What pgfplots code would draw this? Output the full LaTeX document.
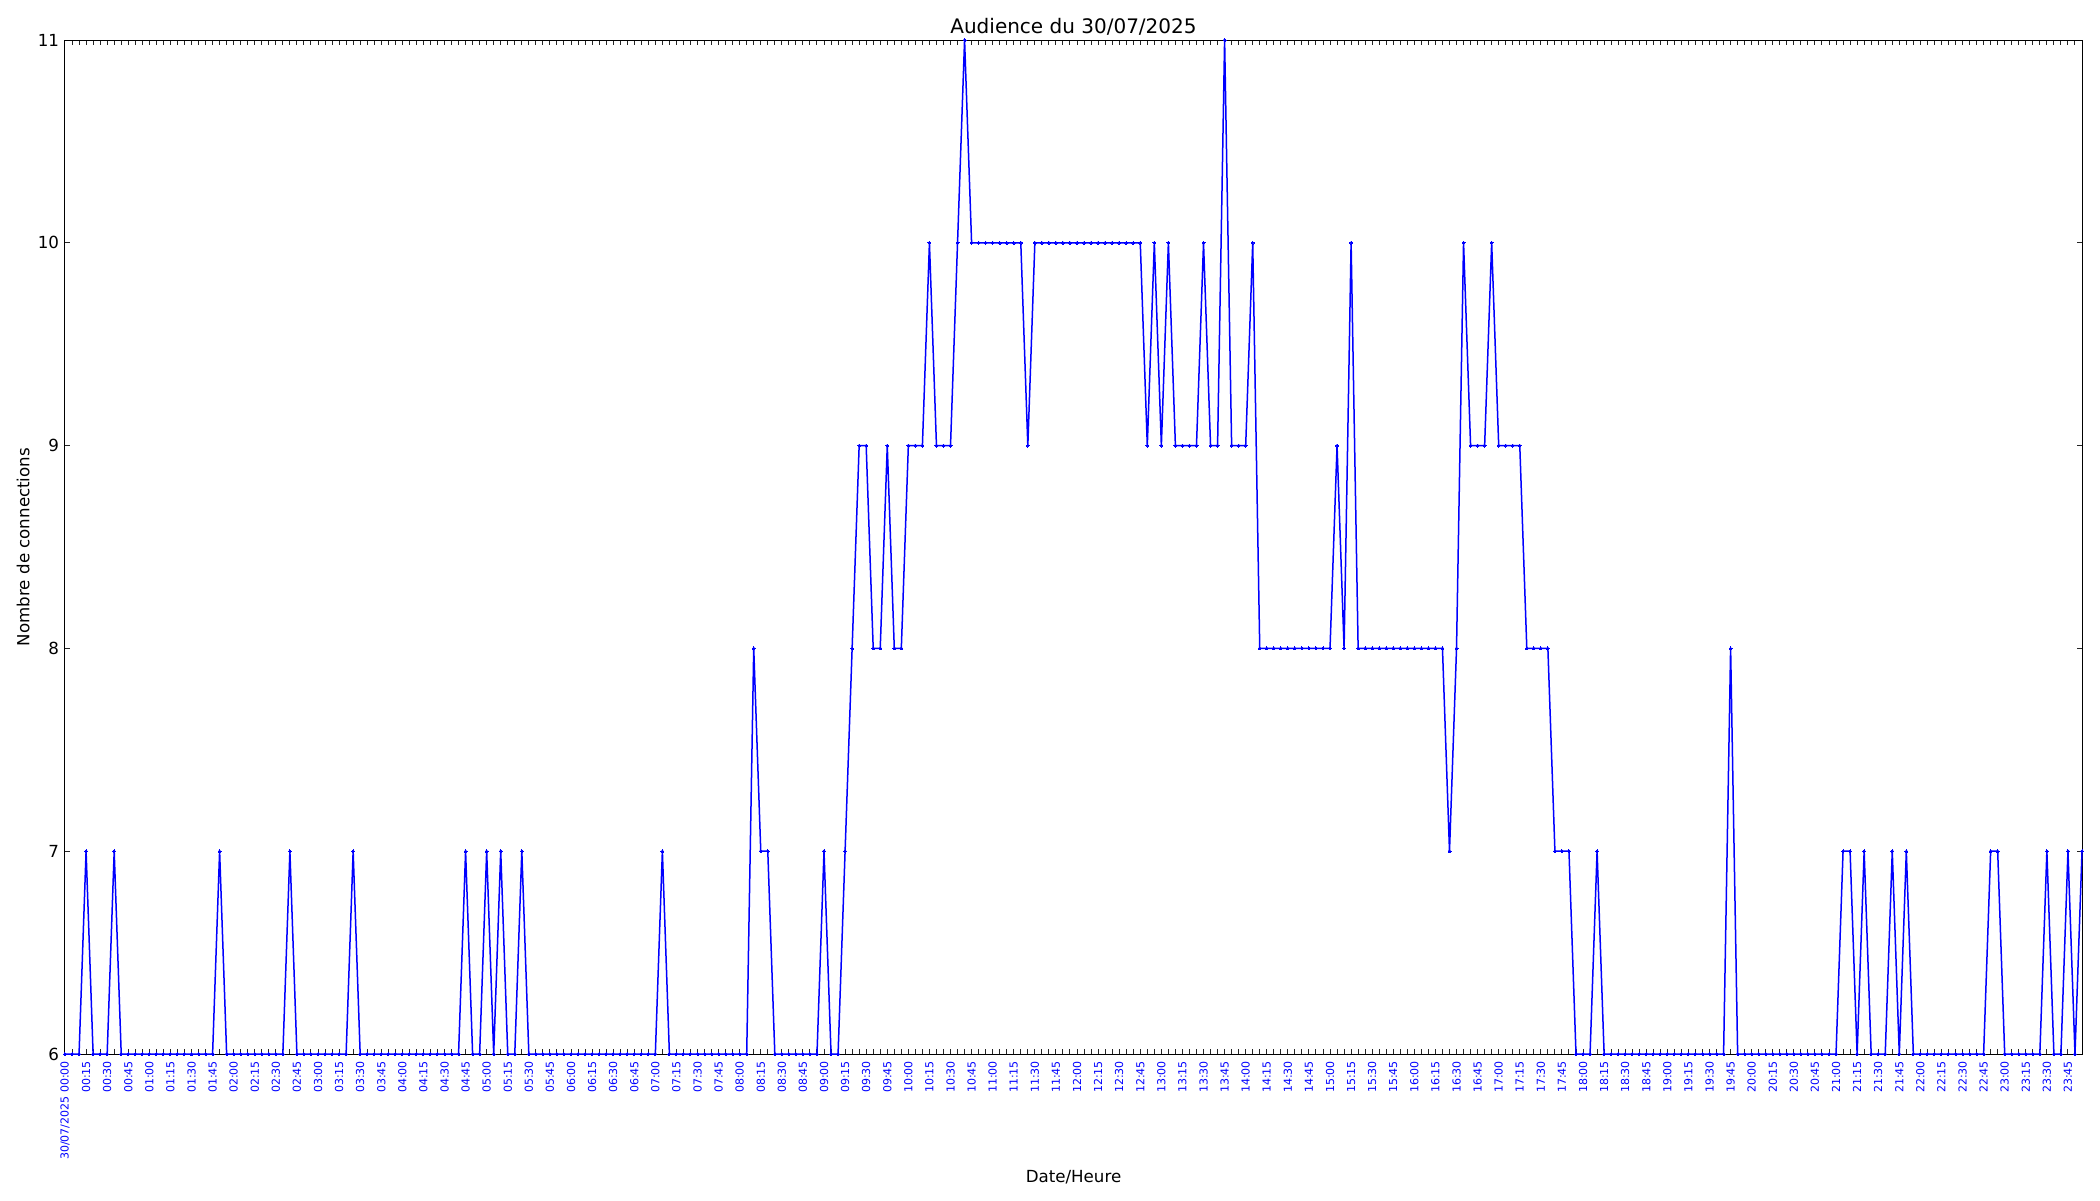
\documentclass[border=0pt]{standalone}
\usepackage{fontspec}
\setmainfont{DejaVu Sans}
\usepackage{pgfplots}
\usepackage{pgfplotstable}
\pgfplotsset{compat=1.18}
\definecolor{lineblue}{RGB}{0,0,255}
% one value every 5 minutes, 00:00 to 23:55 (one line per hour)
\pgfplotstableread[row sep=\\]{
conn\\
6\\6\\6\\7\\6\\6\\6\\7\\6\\6\\6\\6\\
6\\6\\6\\6\\6\\6\\6\\6\\6\\6\\7\\6\\
6\\6\\6\\6\\6\\6\\6\\6\\7\\6\\6\\6\\
6\\6\\6\\6\\6\\7\\6\\6\\6\\6\\6\\6\\
6\\6\\6\\6\\6\\6\\6\\6\\6\\7\\6\\6\\
7\\6\\7\\6\\6\\7\\6\\6\\6\\6\\6\\6\\
6\\6\\6\\6\\6\\6\\6\\6\\6\\6\\6\\6\\
6\\7\\6\\6\\6\\6\\6\\6\\6\\6\\6\\6\\
6\\6\\8\\7\\7\\6\\6\\6\\6\\6\\6\\6\\
7\\6\\6\\7\\8\\9\\9\\8\\8\\9\\8\\8\\
9\\9\\9\\10\\9\\9\\9\\10\\11\\10\\10\\10\\
10\\10\\10\\10\\10\\9\\10\\10\\10\\10\\10\\10\\
10\\10\\10\\10\\10\\10\\10\\10\\10\\10\\9\\10\\
9\\10\\9\\9\\9\\9\\10\\9\\9\\11\\9\\9\\
9\\10\\8\\8\\8\\8\\8\\8\\8\\8\\8\\8\\
8\\9\\8\\10\\8\\8\\8\\8\\8\\8\\8\\8\\
8\\8\\8\\8\\8\\7\\8\\10\\9\\9\\9\\10\\
9\\9\\9\\9\\8\\8\\8\\8\\7\\7\\7\\6\\
6\\6\\7\\6\\6\\6\\6\\6\\6\\6\\6\\6\\
6\\6\\6\\6\\6\\6\\6\\6\\6\\8\\6\\6\\
6\\6\\6\\6\\6\\6\\6\\6\\6\\6\\6\\6\\
6\\7\\7\\6\\7\\6\\6\\6\\7\\6\\7\\6\\
6\\6\\6\\6\\6\\6\\6\\6\\6\\6\\7\\7\\
6\\6\\6\\6\\6\\6\\7\\6\\6\\7\\6\\7\\
}\audience
\begin{document}
\begin{tikzpicture}
\useasboundingbox (-32.5pt,-73pt) rectangle (1017.5pt,527pt);
\begin{axis}[
  at={(0,0)}, anchor=south west,
  scale only axis, width=1008.5pt, height=507pt,
  xmin=0, xmax=287, ymin=6, ymax=11,
  clip=false,
  axis line style={black, line width=0.5pt},
  tick pos=both, tick align=inside,
  xticklabel pos=lower, yticklabel pos=left,
  xtick={0,3,...,285},
  minor xtick={0,1,...,287},
  major tick length=2.6pt, minor tick length=2.6pt,
  every tick/.style={black!85, line width=0.5pt},
  ytick={6,7,8,9,10,11},
  xticklabels={30/07/2025 00:00,00:15,00:30,00:45,
    01:00,01:15,01:30,01:45,02:00,02:15,02:30,02:45,
    03:00,03:15,03:30,03:45,04:00,04:15,04:30,04:45,
    05:00,05:15,05:30,05:45,06:00,06:15,06:30,06:45,
    07:00,07:15,07:30,07:45,08:00,08:15,08:30,08:45,
    09:00,09:15,09:30,09:45,10:00,10:15,10:30,10:45,
    11:00,11:15,11:30,11:45,12:00,12:15,12:30,12:45,
    13:00,13:15,13:30,13:45,14:00,14:15,14:30,14:45,
    15:00,15:15,15:30,15:45,16:00,16:15,16:30,16:45,
    17:00,17:15,17:30,17:45,18:00,18:15,18:30,18:45,
    19:00,19:15,19:30,19:45,20:00,20:15,20:30,20:45,
    21:00,21:15,21:30,21:45,22:00,22:15,22:30,22:45,
    23:00,23:15,23:30,23:45},
  xticklabel style={rotate=90, anchor=east, text=lineblue,
    font=\fontsize{5.5}{6}\selectfont, inner sep=0pt, outer xsep=3.6pt, outer ysep=0pt},
  yticklabel style={anchor=east, font=\fontsize{8.33}{10}\selectfont,
    inner sep=0pt, outer xsep=3pt, outer ysep=0pt},
  /pgf/number format/assume math mode=true,
  every axis title shift=0pt,
  title={Audience du 30/07/2025},
  title style={at={(axis description cs:0.5,1.0069)}, anchor=base,
    font=\fontsize{10}{12}\selectfont, inner sep=0pt},
  xlabel={Date/Heure},
  xlabel style={at={(axis description cs:0.5,-0.1268)}, anchor=base,
    font=\fontsize{8.33}{10}\selectfont, inner sep=0pt},
  ylabel={Nombre de connections},
  ylabel style={at={(axis description cs:-0.01765,0.5)}, anchor=base,
    font=\fontsize{8.33}{10}\selectfont, inner sep=0pt},
]
\addplot[color=lineblue, line width=0.75pt, mark=*, mark size=0.75pt,
  mark options={fill=lineblue, draw=lineblue, line width=0pt}]
  table[x expr=\coordindex, y=conn] {\audience};
\end{axis}
\end{tikzpicture}
\end{document}
